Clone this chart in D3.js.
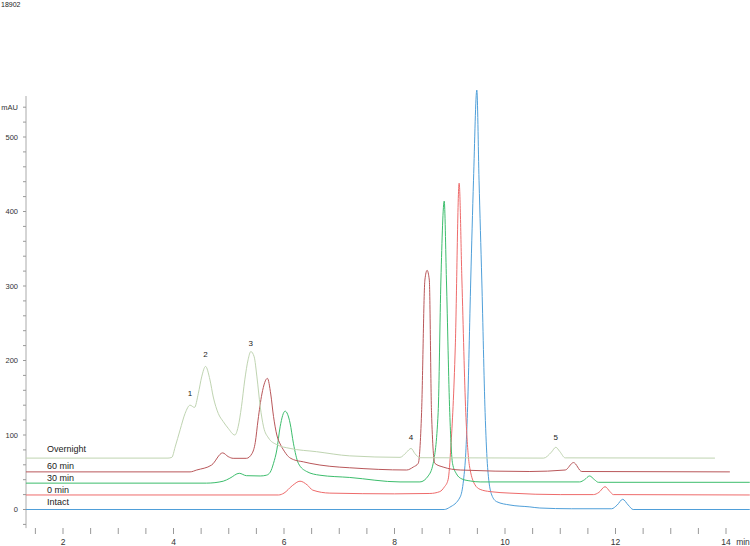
<!DOCTYPE html>
<html>
<head>
<meta charset="utf-8">
<script src="https://cdn.jsdelivr.net/npm/d3@7"></script>
<style>
  body { margin: 0; background: #fff; }
  svg { display: block; font-family: "Liberation Sans", Arial, sans-serif; }
</style>
</head>
<body>
<svg id="chart" width="750" height="546"></svg>
<script>
const sampleName = '18902';
const traceNames = ['Intact', '0 min', '30 min', '60 min', 'Overnight'];
const traceColors = ['#4f9fd9', '#ee6b6b', '#3cbd6c', '#b9575a', '#bfd4b1'];
const labelValues = [5.6, 22.5, 38.3, 54.8, 76.8];

// [time (min), signal (mAU)]
const intact = [[1.33,0],[8.9,0],[9.0,3],[9.19,17],[9.25,40],[9.29,76],[9.32,130],[9.38,308],[9.43,442],[9.49,563],
  [9.53,442],[9.58,308],[9.64,130],[9.68,62],[9.70,44],[9.76,19.5],[9.85,10.5],[10.09,6],[10.45,3.5],[10.63,2],
  [11.2,1],[11.93,1],[12.03,6],[12.13,13.7],[12.23,6],[12.32,0],[14.43,0]];
const min0 = [[1.33,19.5],[5.9,19.5],[6.0,22],[6.15,32],[6.29,38],[6.42,33],[6.52,26],[6.83,22],[8.0,21],[8.64,21.5],
  [8.82,24],[8.9,30],[8.97,40],[9.02,84],[9.10,218],[9.17,438],[9.22,308],[9.29,130],[9.35,62],[9.37,53],[9.45,34],
  [9.55,27],[9.73,24],[10.09,22],[11.0,20],[11.6,20],[11.7,23],[11.81,30.6],[11.9,24],[11.96,20],[14.43,19.5]];
const min30 = [[1.33,35.4],[4.6,35.4],[4.9,38],[5.02,42],[5.19,48.6],[5.32,45.4],[5.57,45],[5.68,46],[5.75,50],[5.81,62],
  [5.87,80],[5.93,111],[6.02,132],[6.11,116],[6.17,89],[6.26,62],[6.41,51],[6.65,46],[7.19,43],[8.10,37],[8.46,37],
  [8.61,45],[8.70,62],[8.79,130],[8.84,308],[8.90,414],[8.94,308],[9.00,130],[9.05,62],[9.12,48],[9.22,41],[9.37,38.3],
  [9.55,37],[11.35,37],[11.44,40],[11.53,45],[11.62,40],[11.69,36.5],[14.43,36.5]];
const min60 = [[1.33,50.5],[4.3,50.5],[4.42,53],[4.69,59.7],[4.89,76],[4.99,71],[5.08,68.7],[5.32,68.7],[5.42,75],
  [5.48,90],[5.53,120],[5.60,155],[5.70,176],[5.76,155],[5.81,125],[5.87,100],[5.93,88],[5.99,80],[6.08,71],[6.17,67],
  [6.35,64],[6.47,62],[6.83,58],[7.19,56],[8.22,53],[8.34,57],[8.43,62],[8.49,130],[8.55,308],[8.59,321],[8.63,308],
  [8.67,130],[8.73,62],[8.88,57],[9.19,53],[10.45,51],[11.09,53],[11.24,63],[11.39,51],[14.07,50.5]];
const overnight = [[1.33,69],[3.9,69],[3.97,70],[4.03,84],[4.12,107],[4.21,129],[4.30,140],[4.38,137],[4.45,156],
  [4.51,178],[4.58,192],[4.66,174],[4.72,151],[4.81,129],[4.90,118],[4.99,109],[5.11,100],[5.17,111],[5.23,138],
  [5.29,174],[5.35,201],[5.40,212],[5.46,205],[5.51,178],[5.57,138],[5.63,111],[5.72,96],[5.87,87],[6.11,82],
  [6.59,77.6],[7.19,72],[8.10,70],[8.22,77],[8.30,82],[8.37,75],[8.46,69.5],[10.7,69],[10.84,77],[10.92,83.5],
  [10.99,78],[11.09,69.3],[13.80,69]];
const traces = [intact, min0, min30, min60, overnight];

const peakLabels = ['1', '2', '3', '4', '5'];
const peakLabelTimes = [4.30, 4.58, 5.40, 8.30, 10.92];
const peakLabelValues = [156, 209, 223, 97, 97];

const xTickLabels = [2, 4, 6, 8, 10, 12, 14];
const yTickLabels = [0, 100, 200, 300, 400, 500];
const yUnitValue = 540;

var svg = d3.select('#chart');

var x = d3.scaleLinear([2, 14], [63, 726]),
    y = d3.scaleLinear([0, 500], [509.5, 137]);

svg.append('text')
    .attr('x', 1).attr('y', 7)
    .attr('font-size', 7).attr('fill', '#222')
    .text(sampleName);

// y axis
var yAxis = svg.append('g').attr('transform', 'translate(26,0)');
yAxis.append('line')
    .attr('y1', y(555)).attr('y2', y(-25))
    .attr('stroke', '#aaa');
yAxis.selectAll('line.tick')
    .data(d3.range(-20, yUnitValue + 1, 20))
    .enter().append('line')
    .attr('class', 'tick')
    .attr('x1', -3).attr('x2', 0)
    .attr('y1', y).attr('y2', y)
    .attr('stroke', '#999');
yAxis.selectAll('text')
    .data(yTickLabels.map(String).concat(['mAU']))
    .enter().append('text')
    .attr('x', -8)
    .attr('y', (d, i) => i < yTickLabels.length ? y(yTickLabels[i]) : y(yUnitValue))
    .attr('dy', '0.35em')
    .attr('text-anchor', 'end')
    .attr('font-size', 7.5).attr('fill', '#333')
    .text(d => d);

// x axis (ticks only)
var xAxis = svg.append('g').attr('transform', 'translate(0,528)');
xAxis.selectAll('line')
    .data(d3.range(1.5, 14.01, 0.5))
    .enter().append('line')
    .attr('x1', x).attr('x2', x)
    .attr('y1', 0).attr('y2', 6)
    .attr('stroke', '#999');
xAxis.selectAll('text.tl')
    .data(xTickLabels)
    .enter().append('text')
    .attr('class', 'tl')
    .attr('x', x).attr('y', 16.5)
    .attr('text-anchor', 'middle')
    .attr('font-size', 8.5).attr('fill', '#333')
    .text(d => d);
xAxis.append('text')
    .attr('x', 743).attr('y', 16.5)
    .attr('text-anchor', 'middle')
    .attr('font-size', 8.5).attr('fill', '#333')
    .text('min');

// traces
var line = d3.line()
    .x(d => x(d[0]))
    .y(d => y(d[1]))
    .curve(d3.curveMonotoneX);

svg.append('g')
    .selectAll('path')
    .data(traces)
    .enter().append('path')
    .attr('d', line)
    .attr('fill', 'none')
    .attr('stroke', (d, i) => traceColors[i])
    .attr('stroke-width', 1);

svg.append('g')
    .selectAll('text')
    .data(traceNames)
    .enter().append('text')
    .attr('x', 47)
    .attr('y', (d, i) => y(labelValues[i]))
    .attr('font-size', 9).attr('fill', '#222')
    .text(d => d);

svg.append('g')
    .selectAll('text')
    .data(peakLabels)
    .enter().append('text')
    .attr('x', (d, i) => x(peakLabelTimes[i]))
    .attr('y', (d, i) => y(peakLabelValues[i]))
    .attr('dy', '0.35em')
    .attr('text-anchor', 'middle')
    .attr('font-size', 8).attr('fill', '#222')
    .text(d => d);
</script>
</body>
</html>
